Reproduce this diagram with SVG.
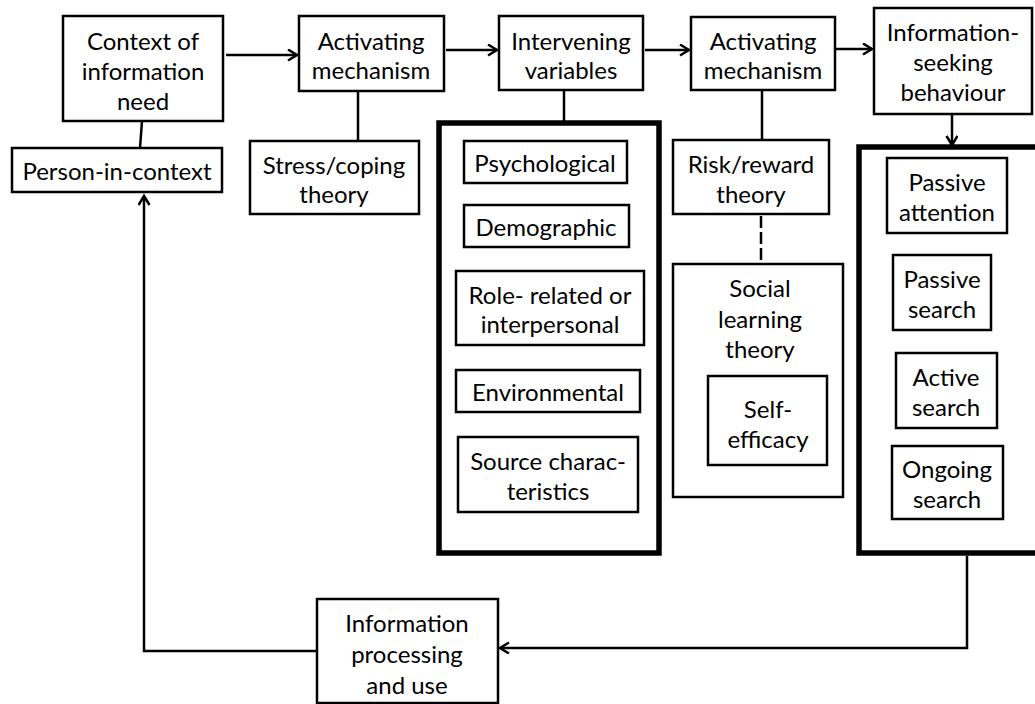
<svg xmlns="http://www.w3.org/2000/svg" width="1035" height="704" viewBox="0 0 1035 704">
<defs>
<style>
.box{fill:#fff;stroke:#000;stroke-width:2.5}
.thick{fill:#fff;stroke:#000;stroke-width:5.5}
.ln{fill:none;stroke:#000;stroke-width:2.5}
.dash{fill:none;stroke:#000;stroke-width:2.5;stroke-dasharray:12 4}
text{font-family:Lato,"Open Sans",sans-serif;font-size:24px;fill:#000;text-anchor:middle;dominant-baseline:central}
</style>
<marker id="arr" markerUnits="userSpaceOnUse" markerWidth="14" markerHeight="14" refX="10" refY="6" orient="auto">
<path d="M1,0.5 L10,6 L1,11.5" fill="none" stroke="#000" stroke-width="2.5"/>
</marker>
</defs>
<rect width="1035" height="704" fill="#fff"/>

<g id="context">
<rect class="box" x="63" y="16" width="160" height="105"/>
<text x="143" y="40">Context of</text>
<text x="143" y="70">information</text>
<text x="143" y="100">need</text>
</g>
<g id="person">
<rect class="box" x="12" y="148" width="210" height="44"/>
<text x="117" y="170">Person-in-context</text>
</g>
<g id="activating1">
<rect class="box" x="299" y="16" width="145" height="75"/>
<text x="371" y="40">Activating</text>
<text x="371" y="69">mechanism</text>
</g>
<g id="stress">
<rect class="box" x="250" y="141" width="169" height="73"/>
<text x="334" y="164">Stress/coping</text>
<text x="334" y="193">theory</text>
</g>
<g id="intervening">
<rect class="box" x="499" y="16" width="144" height="74"/>
<text x="571" y="40">Intervening</text>
<text x="571" y="69">variables</text>
</g>
<g id="variables">
<rect class="thick" x="439" y="123" width="220" height="430"/>
<g id="psychological">
<rect class="box" x="464" y="141" width="163" height="42"/>
<text x="545" y="162">Psychological</text>
</g>
<g id="demographic">
<rect class="box" x="464" y="205" width="165" height="42"/>
<text x="546" y="226">Demographic</text>
</g>
<g id="role">
<rect class="box" x="456" y="271" width="188" height="74"/>
<text x="550" y="294">Role- related or</text>
<text x="550" y="323">interpersonal</text>
</g>
<g id="environmental">
<rect class="box" x="456" y="370" width="184" height="42"/>
<text x="548" y="391">Environmental</text>
</g>
<g id="source">
<rect class="box" x="458" y="437" width="180" height="75"/>
<text x="548" y="460">Source charac-</text>
<text x="548" y="490">teristics</text>
</g>
</g>
<g id="activating2">
<rect class="box" x="691" y="17" width="144" height="73"/>
<text x="763" y="40">Activating</text>
<text x="763" y="69">mechanism</text>
</g>
<g id="risk">
<rect class="box" x="673" y="140" width="156" height="74"/>
<text x="751" y="163">Risk/reward</text>
<text x="751" y="193">theory</text>
</g>
<g id="social">
<rect class="box" x="673" y="264" width="170" height="233"/>
<text x="760" y="287">Social</text>
<text x="760" y="318">learning</text>
<text x="760" y="348">theory</text>
<g id="selfefficacy">
<rect class="box" x="708" y="376" width="119" height="89"/>
<text x="768" y="408">Self-</text>
<text x="768" y="438">efficacy</text>
</g>
</g>
<g id="seeking">
<rect class="box" x="874" y="8" width="158" height="106"/>
<text x="953" y="31">Information-</text>
<text x="953" y="61">seeking</text>
<text x="953" y="91">behaviour</text>
</g>
<g id="behaviours">
<rect class="thick" x="859" y="147" width="190" height="406"/>
<g id="passiveattention">
<rect class="box" x="887" y="158" width="120" height="75"/>
<text x="947" y="181">Passive</text>
<text x="947" y="211">attention</text>
</g>
<g id="passivesearch">
<rect class="box" x="893" y="255" width="98" height="75"/>
<text x="942" y="278">Passive</text>
<text x="942" y="308">search</text>
</g>
<g id="activesearch">
<rect class="box" x="896" y="353" width="101" height="75"/>
<text x="946" y="376">Active</text>
<text x="946" y="406">search</text>
</g>
<g id="ongoingsearch">
<rect class="box" x="892" y="446" width="111" height="73"/>
<text x="947" y="468">Ongoing</text>
<text x="947" y="498">search</text>
</g>
</g>
<g id="processing">
<rect class="box" x="317" y="599" width="181" height="104"/>
<text x="407" y="622">Information</text>
<text x="407" y="653">processing</text>
<text x="407" y="684">and use</text>
</g>

<g id="connectors">
<line class="ln" x1="142" y1="121" x2="140" y2="148"/>
<line class="ln" x1="226" y1="55" x2="297" y2="55" marker-end="url(#arr)"/>
<line class="ln" x1="358" y1="91" x2="358" y2="141"/>
<line class="ln" x1="446" y1="50" x2="497" y2="50" marker-end="url(#arr)"/>
<line class="ln" x1="564" y1="90" x2="564" y2="121"/>
<line class="ln" x1="645" y1="50" x2="689" y2="50" marker-end="url(#arr)"/>
<line class="ln" x1="762" y1="90" x2="762" y2="140"/>
<line class="dash" x1="761" y1="216" x2="761" y2="263"/>
<line class="ln" x1="836" y1="49" x2="872" y2="49" marker-end="url(#arr)"/>
<line class="ln" x1="952" y1="114" x2="952" y2="145" marker-end="url(#arr)"/>
<polyline class="ln" points="967,556 967,648 500,648" marker-end="url(#arr)"/>
<polyline class="ln" points="317,651 144,651 144,196" marker-end="url(#arr)"/>
</g>
</svg>
